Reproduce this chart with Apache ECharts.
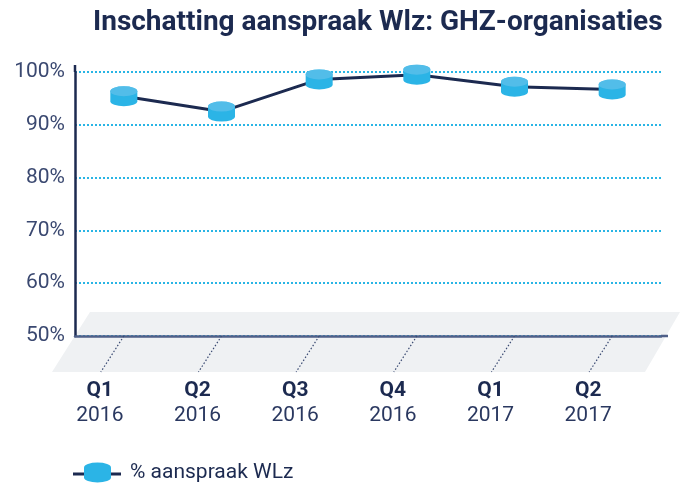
<!DOCTYPE html>
<html>
<head>
<meta charset="utf-8">
<script src="https://cdn.jsdelivr.net/npm/echarts@6/dist/echarts.min.js"></script>
<style>
  html, body { margin: 0; padding: 0; background: #fff; }
  #chart { width: 681px; height: 488px; }
</style>
</head>
<body>
<div id="chart"></div>
<script>
const quarters = ['Q1', 'Q2', 'Q3', 'Q4', 'Q1', 'Q2']
const years = ['2016', '2016', '2016', '2016', '2017', '2017']
const aanspraak = [95.4, 92.5, 98.6, 99.5, 97.2, 96.7]
const yMin = 50
const yMax = 100
const yStep = 10

const seriesName = '% aanspraak WLz'
const categories = quarters.map((q, i) => q + '\n' + years[i])

// cylinder marker: body + lighter top ellipse
const cylinderPath = 'path://M0,5A13.5,5,0,0,1,27,5L27,15A13.5,5,0,0,1,0,15Z'
const ellipsePath = 'path://M0,5A13.5,5,0,1,1,27,5A13.5,5,0,1,1,0,5Z'

const navy = '#1c2a50'
const baseColor = '#4f5f88'

const chart = echarts.init(document.getElementById('chart'))
chart.setOption({
  animation: false,
  title: {
    text: 'Inschatting aanspraak Wlz: GHZ-organisaties',
    left: 88,
    top: 4,
    textStyle: {
      fontFamily: 'Roboto',
      fontWeight: 'bold',
      fontSize: 28,
      color: navy
    }
  },
  legend: {
    data: [{ name: seriesName, icon: cylinderPath }],
    left: 84,
    top: 462,
    padding: 0,
    itemWidth: 27,
    itemHeight: 20,
    textStyle: {
      fontFamily: 'Roboto',
      fontSize: 21,
      color: navy,
      padding: [0, 0, 0, 14]
    }
  },
  // line stub behind the legend marker
  graphic: [
    {
      type: 'line',
      z: -1,
      shape: { x1: 73, y1: 474, x2: 121, y2: 474 },
      style: { stroke: navy, lineWidth: 3 }
    }
  ],
  grid: {
    left: 75,
    right: 20,
    top: 72,
    bottom: 152
  },
  xAxis: {
    type: 'category',
    data: categories,
    axisLine: {
      lineStyle: { color: baseColor, width: 2.5 }
    },
    axisTick: { show: false },
    axisLabel: {
      margin: 42,
      padding: [0, 48, 0, 0],
      formatter: function(v) {
        const parts = v.split('\n')
        return '{q|' + parts[0] + '}\n{y|' + parts[1] + '}'
      },
      rich: {
        q: {
          fontFamily: 'Roboto',
          fontWeight: 'bold',
          fontSize: 21,
          lineHeight: 25,
          color: navy
        },
        y: {
          fontFamily: 'Roboto',
          fontSize: 21,
          lineHeight: 25,
          color: '#2a3860'
        }
      }
    }
  },
  yAxis: {
    type: 'value',
    min: yMin,
    max: yMax,
    interval: yStep,
    axisLine: {
      show: true,
      lineStyle: { color: navy, width: 2.5 }
    },
    axisTick: { show: false },
    axisLabel: {
      formatter: '{value}%',
      margin: 10,
      fontFamily: 'Roboto',
      fontSize: 21,
      color: '#3a4870'
    },
    splitLine: {
      lineStyle: { color: '#29b5e5', width: 2, type: [2, 2] }
    }
  },
  series: [
    {
      // grey floor under the axis, plus small axis overhangs
      type: 'custom',
      z: -1,
      silent: true,
      data: [0],
      renderItem: function(params, api) {
        const cs = params.coordSys
        const l = cs.x
        const r = cs.x + cs.width
        const t = cs.y
        const b = cs.y + cs.height
        return {
          type: 'group',
          children: [
            {
              type: 'polygon',
              shape: {
                points: [
                  [l + 15, b - 24],
                  [r + 19, b - 24],
                  [r - 16, b + 36],
                  [l - 23, b + 36]
                ]
              },
              style: { fill: '#eff1f3' }
            },
            {
              type: 'line',
              shape: { x1: l, y1: t - 7, x2: l, y2: t },
              style: { stroke: navy, lineWidth: 2.5 }
            },
            {
              type: 'line',
              shape: { x1: r, y1: b, x2: r + 7, y2: b },
              style: { stroke: baseColor, lineWidth: 2.5 }
            }
          ]
        }
      }
    },
    {
      // slanted dotted tick lines
      type: 'custom',
      silent: true,
      data: quarters.map((q, i) => i),
      renderItem: function(params, api) {
        const p = api.coord([api.value(0), yMin])
        return {
          type: 'line',
          shape: { x1: p[0], y1: p[1], x2: p[0] - 23, y2: p[1] + 36 },
          style: { stroke: '#3a4a72', lineWidth: 1.2, lineDash: [1.5, 2] }
        }
      }
    },
    {
      name: seriesName,
      type: 'line',
      data: aanspraak,
      symbol: cylinderPath,
      symbolSize: [27, 20],
      showAllSymbol: true,
      lineStyle: { color: navy, width: 3 },
      itemStyle: { color: '#2bb4e6' },
      z: 3
    },
    {
      name: 'top',
      type: 'scatter',
      data: aanspraak,
      symbol: ellipsePath,
      symbolSize: [27, 10],
      symbolOffset: [0, -5],
      itemStyle: { color: '#5dbfea' },
      silent: true,
      z: 4
    }
  ]
})
</script>
</body>
</html>
